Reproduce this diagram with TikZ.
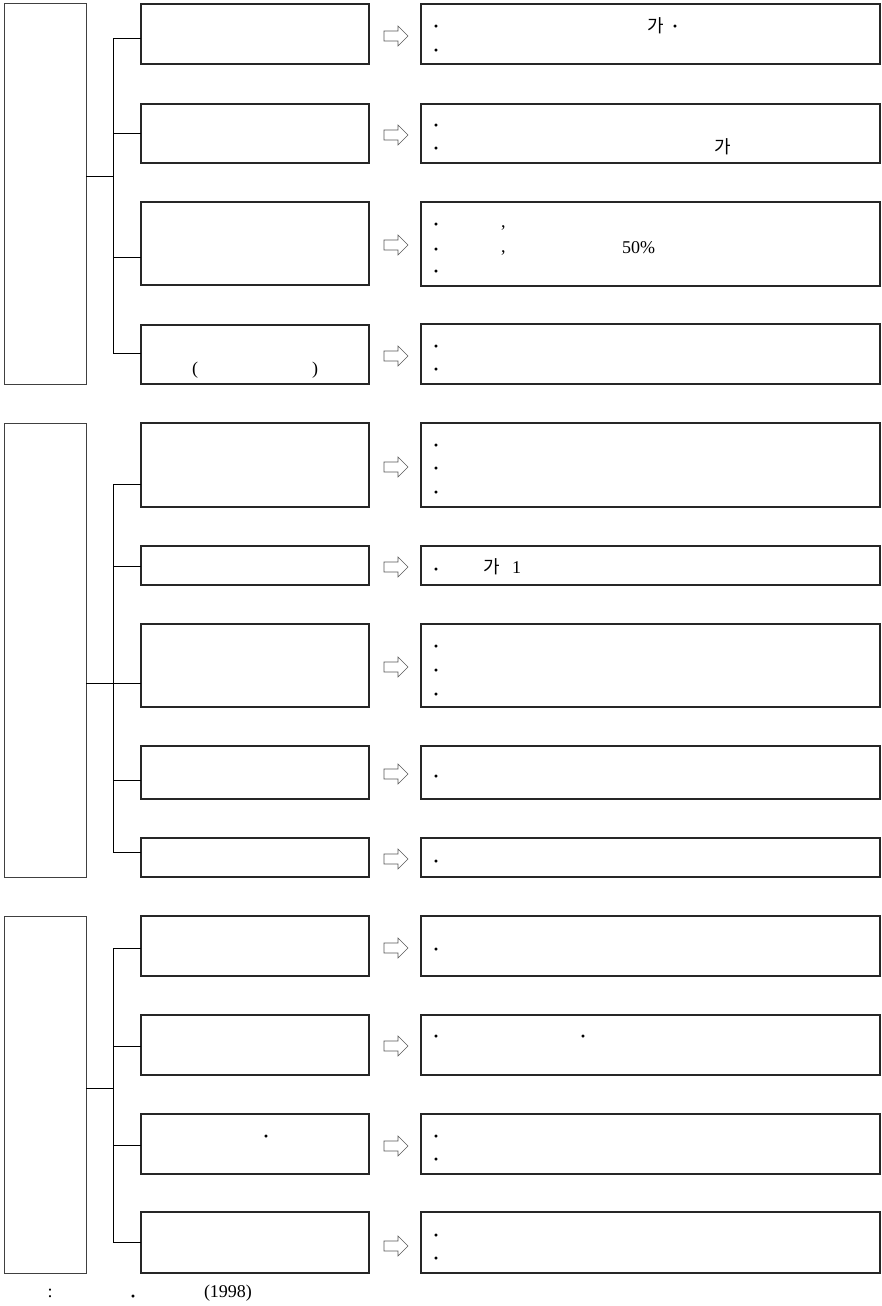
\documentclass[tikz,border=0pt]{standalone}
\usepackage{fontspec}
\setmainfont{Liberation Serif}
\newfontfamily\krfont{Noto Sans CJK KR}
\begin{document}
\begin{tikzpicture}[x=1pt,y=-1pt,
  box/.style={draw=black!85,line width=1.2pt,inner sep=0pt,outer sep=0pt},
  bigbox/.style={draw=black!75,line width=1pt,inner sep=0pt,outer sep=0pt},
  link/.style={draw=black,line width=1pt},
  harrow/.style={draw=black!65,line width=0.6pt,fill=white,line join=miter},
  txt/.style={inner sep=0pt,outer sep=0pt,anchor=base west,font=\fontsize{18}{20}\selectfont},
  dotx/.style={txt,font=\bfseries\fontsize{18}{20}\selectfont},
  kr/.style={txt,font=\krfont\fontsize{18}{20}\selectfont}]
\useasboundingbox (0,0) rectangle (881,1306);
\newcommand\mkbox[6]{%
  \pgfmathsetmacro\bw{#5-#3}\pgfmathsetmacro\bh{#6-#4}%
  \node[#1,minimum width=\bw pt,minimum height=\bh pt] (#2) at ({(#3+#5)/2},{(#4+#6)/2}) {};}
\newcommand\hollow[1]{%
  \draw[harrow] (384,{#1-5}) -- (398,{#1-5}) -- (398,{#1-10}) -- (408,#1) -- (398,{#1+10}) -- (398,{#1+5}) -- (384,{#1+5}) -- cycle;}
\newcommand\branch[3]{% junction-name y target
  \coordinate (#1) at (113,#2);
  \draw[link] (#1) -- (#3.west |- #1);}
\newcommand\bul[3]{% name x centre-y
  \node[dotx] (#1) at (#2,{#3+8.5}) {·};}

% ---------------- group 1 ----------------
\mkbox{bigbox}{L1}{4}{4}{86}{384}
\mkbox{box}{M11}{141}{4}{369}{64}
\mkbox{box}{M12}{141}{104}{369}{163}
\mkbox{box}{M13}{141}{202}{369}{285}
\mkbox{box}{M14}{141}{325}{369}{384}
\mkbox{box}{R11}{421}{4}{880}{64}
\mkbox{box}{R12}{421}{104}{880}{163}
\mkbox{box}{R13}{421}{202}{880}{286}
\mkbox{box}{R14}{421}{324}{880}{384}
\coordinate (J1) at (113,176);
\draw[link] (L1.east |- J1) -- (J1);
\branch{b11}{39}{M11}
\branch{b12}{133}{M12}
\branch{b13}{257}{M13}
\branch{b14}{353}{M14}
\draw[link] (b11) -- (b14);
\hollow{36}\hollow{135}\hollow{245}\hollow{356}
\bul{t111}{433}{24}
\bul{t112}{433}{48}
\node[kr]  (t113) at (647,33) {가};
\bul{t114}{672}{24}
\bul{t121}{433}{123}
\bul{t122}{433}{146}
\node[kr]  (t123) at (714,153) {가};
\bul{t131}{433}{222}
\node[txt] (t132) at (501,227) {,};
\bul{t133}{433}{247}
\node[txt] (t134) at (501,252) {,};
\node[txt] (t135) at (622,253) {50\%};
\bul{t136}{433}{269}
\bul{t141}{433}{344}
\bul{t142}{433}{367}
\node[txt] (m141) at (192,374) {(};
\node[txt] (m142) at (312,374) {)};

% ---------------- group 2 ----------------
\mkbox{bigbox}{L2}{4}{423}{86}{877}
\mkbox{box}{M21}{141}{423}{369}{507}
\mkbox{box}{M22}{141}{546}{369}{585}
\mkbox{box}{M23}{141}{624}{369}{707}
\mkbox{box}{M24}{141}{746}{369}{799}
\mkbox{box}{M25}{141}{838}{369}{877}
\mkbox{box}{R21}{421}{423}{880}{507}
\mkbox{box}{R22}{421}{546}{880}{585}
\mkbox{box}{R23}{421}{624}{880}{707}
\mkbox{box}{R24}{421}{746}{880}{799}
\mkbox{box}{R25}{421}{838}{880}{877}
\coordinate (J2) at (113,683);
\draw[link] (L2.east |- J2) -- (J2);
\branch{b21}{484}{M21}
\branch{b22}{566}{M22}
\branch{b23}{683}{M23}
\branch{b24}{780}{M24}
\branch{b25}{852}{M25}
\draw[link] (b21) -- (b25);
\hollow{467}\hollow{567}\hollow{667}\hollow{774}\hollow{859}
\bul{t211}{433}{443}
\bul{t212}{433}{466}
\bul{t213}{433}{490}
\bul{t221}{433}{567}
\node[kr]  (t222) at (483,573) {가};
\node[txt] (t223) at (512,573) {1};
\bul{t231}{433}{644}
\bul{t232}{433}{668}
\bul{t233}{433}{692}
\bul{t241}{433}{774}
\bul{t251}{433}{859}

% ---------------- group 3 ----------------
\mkbox{bigbox}{L3}{4}{916}{86}{1273}
\mkbox{box}{M31}{141}{916}{369}{976}
\mkbox{box}{M32}{141}{1015}{369}{1075}
\mkbox{box}{M33}{141}{1114}{369}{1174}
\mkbox{box}{M34}{141}{1212}{369}{1273}
\mkbox{box}{R31}{421}{916}{880}{976}
\mkbox{box}{R32}{421}{1015}{880}{1075}
\mkbox{box}{R33}{421}{1114}{880}{1174}
\mkbox{box}{R34}{421}{1212}{880}{1273}
\coordinate (J3) at (113,1088);
\draw[link] (L3.east |- J3) -- (J3);
\branch{b31}{948}{M31}
\branch{b32}{1046}{M32}
\branch{b33}{1145}{M33}
\branch{b34}{1242}{M34}
\draw[link] (b31) -- (b34);
\hollow{948}\hollow{1046}\hollow{1146}\hollow{1246}
\bul{t311}{433}{947}
\bul{t321}{433}{1034}
\bul{t322}{580}{1034}
\bul{m331}{263}{1134}
\bul{t331}{433}{1134}
\bul{t332}{433}{1157}
\bul{t341}{433}{1233}
\bul{t342}{433}{1256}

% ---------------- source line ----------------
\node[txt] (s1) at (47.5,1297) {:};
\bul{s2}{130}{1294}
\node[txt] (s3) at (204,1297) {(1998)};
\end{tikzpicture}
\end{document}
